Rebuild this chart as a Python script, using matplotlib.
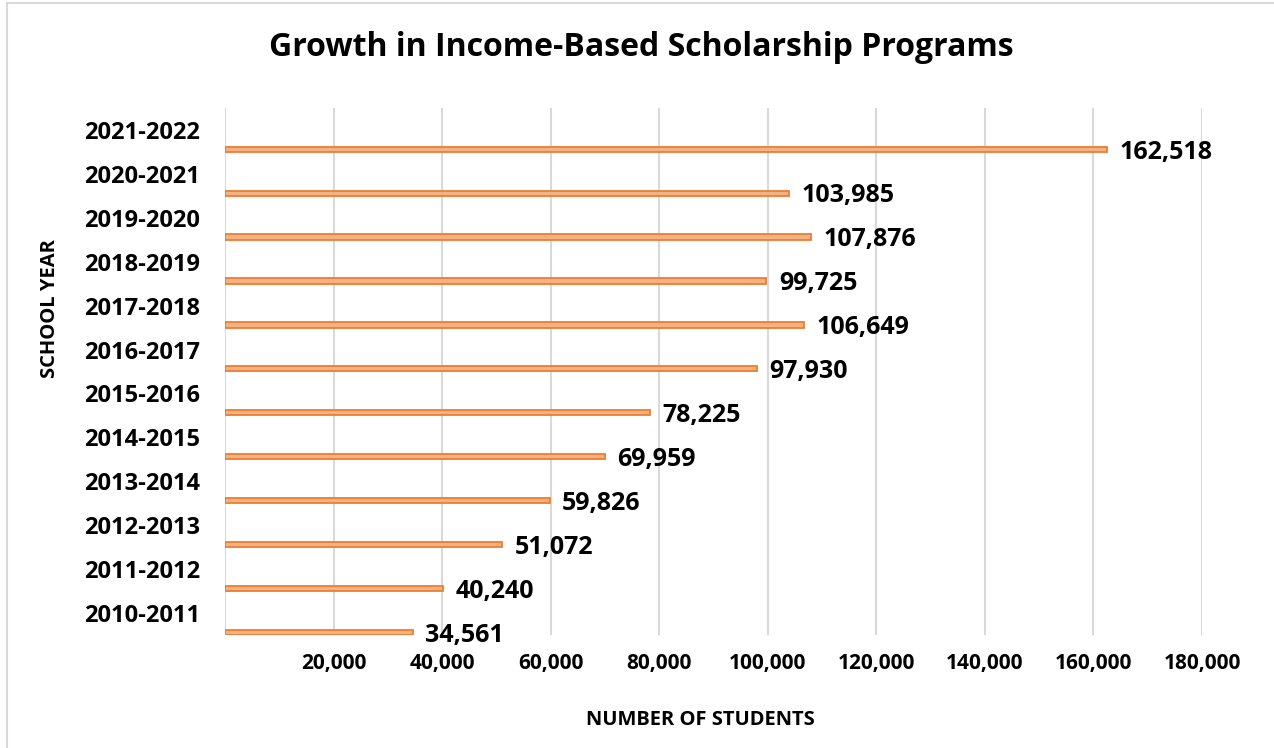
import numpy as np
import matplotlib.pyplot as plt
from matplotlib.lines import Line2D

years = ["2010-2011", "2011-2012", "2012-2013", "2013-2014", "2014-2015", "2015-2016",
         "2016-2017", "2017-2018", "2018-2019", "2019-2020", "2020-2021", "2021-2022"]
students = [34561, 40240, 51072, 59826, 69959, 78225,
            97930, 106649, 99725, 107876, 103985, 162518]
xticks = [20000, 40000, 60000, 80000, 100000, 120000, 140000, 160000, 180000]

plt.rcParams['font.family'] = ['Open Sans', 'DejaVu Sans']

fig = plt.figure(figsize=(12.74, 7.48), dpi=100)
ax = fig.add_axes([0.1766, 0.1511, 0.7669, 0.7045])

y = np.arange(len(years))
# bars sit in the lower part of each category band
ax.barh(y - 0.44, students, height=0.12, color='#F4B183', edgecolor='#ED7D31', linewidth=1.3, zorder=3)

for yi, v in zip(y, students):
    ax.annotate(f"{v:,}", (v, yi - 0.44), xytext=(9, -2), textcoords='offset points',
                va='center', ha='left', fontsize=18, fontweight='bold')

ax.set_xlim(0, 180000)
ax.set_ylim(-0.5, len(years) - 0.5)
ax.set_xticks(xticks)
ax.set_xticklabels([f"{t:,}" for t in xticks], fontsize=15, fontweight='bold')
ax.set_yticks(y)
ax.set_yticklabels(years, fontsize=17, fontweight='bold')
ax.tick_params(length=0)
ax.tick_params(axis='x', pad=13)
ax.tick_params(axis='y', pad=18)

ax.set_axisbelow(True)
ax.xaxis.grid(True, color='#D9D9D9', linewidth=1.5)
ax.axvline(0, color='#D9D9D9', linewidth=1.5, zorder=1)
for s in ax.spines.values():
    s.set_visible(False)

ax.set_xlabel("NUMBER OF STUDENTS", fontsize=14.5, fontweight='bold', va='center')
ax.xaxis.set_label_coords(0.487, -0.161)
ax.set_ylabel("SCHOOL YEAR", fontsize=14.5, fontweight='bold', va='center')
ax.yaxis.set_label_coords(-0.179, 0.619)
fig.text(0.503, 0.937, "Growth in Income-Based Scholarship Programs", ha='center', va='center',
         fontsize=23, fontweight='bold')

# chart frame
fig.add_artist(Line2D([0.0055, 0.0055], [0, 0.996], color='#D9D9D9', linewidth=1.5))
fig.add_artist(Line2D([0.0055, 1], [0.996, 0.996], color='#D9D9D9', linewidth=1.5))

fig.savefig("out.png", dpi=100)
